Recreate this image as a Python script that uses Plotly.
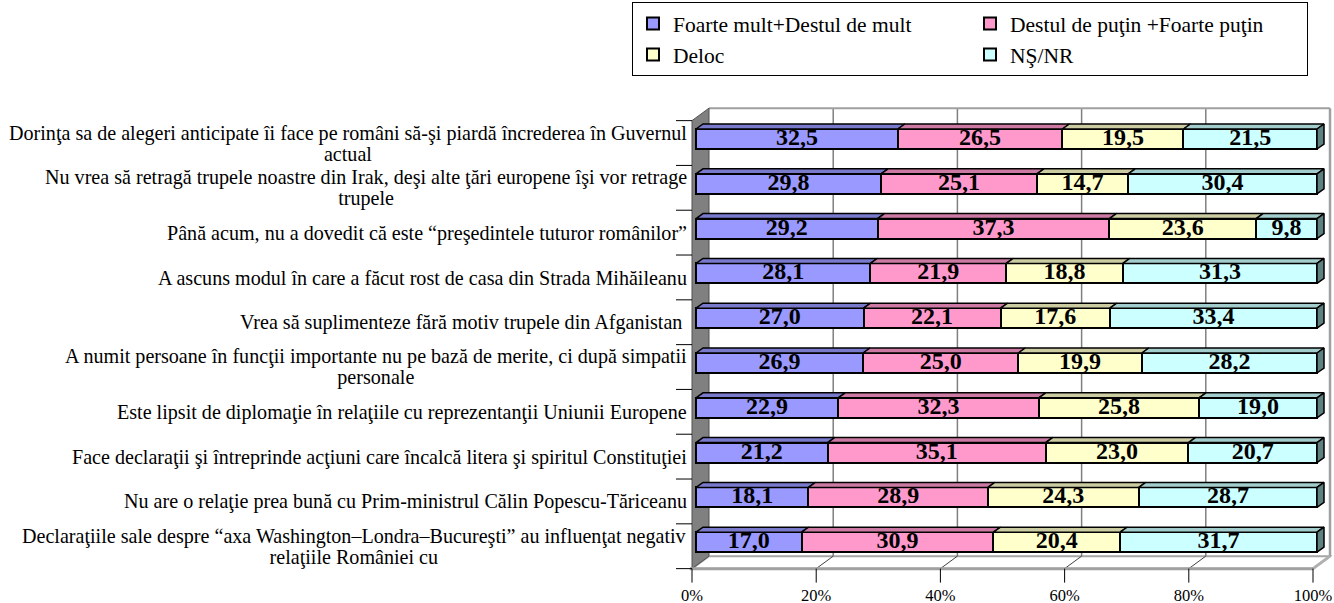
import plotly.graph_objects as go

# ---------------- data ----------------
categories = [
    "Dorinţa sa de alegeri anticipate îi face pe români să-şi piardă încrederea în Guvernul<br>actual",
    "Nu vrea să retragă trupele noastre din Irak, deşi alte ţări europene îşi vor retrage<br>trupele",
    "Până acum, nu a dovedit că este “preşedintele tuturor românilor”",
    "A ascuns modul în care a făcut rost de casa din Strada Mihăileanu",
    "Vrea să suplimenteze fără motiv trupele din Afganistan ",
    "A numit persoane în funcţii importante nu pe bază de merite, ci după simpatii<br>personale",
    "Este lipsit de diplomaţie în relaţiile cu reprezentanţii Uniunii Europene",
    "Face declaraţii şi întreprinde acţiuni care încalcă litera şi spiritul Constituţiei",
    "Nu are o relaţie prea bună cu Prim-ministrul Călin Popescu-Tăriceanu",
    "Declaraţiile sale despre “axa Washington–Londra–Bucureşti” au influenţat negativ<br>relaţiile României cu",
]
series_names = ["Foarte mult+Destul de mult", "Destul de puţin +Foarte puţin", "Deloc", "NŞ/NR"]
foarte_mult = [32.5, 29.8, 29.2, 28.1, 27.0, 26.9, 22.9, 21.2, 18.1, 17.0]
destul_putin = [26.5, 25.1, 37.3, 21.9, 22.1, 25.0, 32.3, 35.1, 28.9, 30.9]
deloc = [19.5, 14.7, 23.6, 18.8, 17.6, 19.9, 25.8, 23.0, 24.3, 20.4]
ns_nr = [21.5, 30.4, 9.8, 31.3, 33.4, 28.2, 19.0, 20.7, 28.7, 31.7]
tick_vals = [0, 20, 40, 60, 80, 100]
tick_text = ["0%", "20%", "40%", "60%", "80%", "100%"]

series = [foarte_mult, destul_putin, deloc, ns_nr]
colors = ["#9999FF", "#FF99CC", "#FFFFCC", "#CCFFFF"]
top_colors = ["#7A7ACC", "#CC7AA3", "#CCCCA3", "#A3CCCC"]
side_color = "#5F8080"
FONT = "Liberation Serif"

# ---------------- geometry (pixels -> data units) ----------------
W, H = 1334, 603
ML, MR, MT, MB = 620, 2, 100, 20
PW, PH = W - ML - MR, H - MT - MB
X0_PX, SX = 696, 6.21      # pixel of 0% on bar front, px per percent
Y0_PX, SY = 139, 44.8      # pixel of first category, px per category
xr = [(ML - X0_PX) / SX, (W - MR - X0_PX) / SX]
yr = [(H - MB - Y0_PX) / SY, (MT - Y0_PX) / SY]

DX, DY = 17 / SX, 12.5 / SY       # depth of the 3D box
T0 = 0.235                         # bar front position within depth
BDX, BDY = 7 / SX, 5 / SY          # bar depth
BAR_W = 20 / SY
CY = 0.09
n = len(categories)
idx = list(range(n))

xf = -T0 * DX                      # front plane x offset
xb = xf + DX                       # back plane x offset
yft, yfb = -0.5 + CY, n - 0.5 + CY  # front plane top / bottom
ybt, ybb = yft - DY, yfb - DY        # back plane top / bottom

fig = go.Figure()

# bars
for j, s in enumerate(series):
    fig.add_trace(go.Bar(
        x=s, y=idx, orientation="h", width=BAR_W, name=series_names[j],
        marker=dict(color=colors[j], line=dict(color="black", width=2)),
        hoverinfo="skip",
    ))

# normalized values for the 3D faces and labels
totals = [sum(series[j][i] for j in range(4)) for i in idx]
norm = [[series[j][i] / totals[i] * 100 for i in idx] for j in range(4)]

lab_x, lab_y, lab_t = [], [], []
for j in range(4):
    fx, fy = [], []
    for i in idx:
        left = sum(norm[k][i] for k in range(j))
        right = left + norm[j][i]
        yt = i - BAR_W / 2
        fx += [left, right, right + BDX, left + BDX, left, None]
        fy += [yt, yt, yt - BDY, yt - BDY, yt, None]
        lab_x.append((left + right) / 2)
        lab_y.append(i)
        lab_t.append(f"{series[j][i]:.1f}".replace(".", ","))
    fig.add_trace(go.Scatter(
        x=fx, y=fy, mode="lines", fill="toself", fillcolor=top_colors[j],
        line=dict(color="black", width=1.5), showlegend=False, hoverinfo="skip",
    ))

# right side faces
sx, sy = [], []
for i in idx:
    yt, yb = i - BAR_W / 2, i + BAR_W / 2
    sx += [100, 100, 100 + BDX, 100 + BDX, 100, None]
    sy += [yt, yb, yb - BDY, yt - BDY, yt, None]
fig.add_trace(go.Scatter(
    x=sx, y=sy, mode="lines", fill="toself", fillcolor=side_color,
    line=dict(color="black", width=1.5), showlegend=False, hoverinfo="skip",
))

# value labels
fig.add_trace(go.Scatter(
    x=lab_x, y=lab_y, text=lab_t, mode="text", textposition="middle center",
    textfont=dict(family=FONT, size=24, color="black", weight="bold"),
    showlegend=False, hoverinfo="skip",
))

# ---------------- 3D box: walls, floor, gridlines ----------------
shapes = []
def path(pts):
    return "M " + " L ".join(f"{x},{y}" for x, y in pts) + " Z"

# back wall
shapes.append(dict(type="path", path=path([(xb, ybt), (100 + xb, ybt), (100 + xb, ybb), (xb, ybb)]),
                   fillcolor="white", line=dict(width=0), layer="below"))
# floor
shapes.append(dict(type="path", path=path([(xf, yfb), (100 + xf, yfb), (100 + xb, ybb), (xb, ybb)]),
                   fillcolor="white", line=dict(color="#A6A6A6", width=2), layer="below"))
# gridlines on back wall + floor diagonals
for v in tick_vals[1:-1]:
    shapes.append(dict(type="line", x0=v + xb, x1=v + xb, y0=ybt, y1=ybb,
                       line=dict(color="#808080", width=1.5), layer="below"))
    shapes.append(dict(type="line", x0=v + xb, x1=v + xf, y0=ybb, y1=yfb,
                       line=dict(color="#404040", width=1), layer="below"))
# back wall top and right edges
shapes.append(dict(type="line", x0=xb, x1=100 + xb, y0=ybt, y1=ybt,
                   line=dict(color="#A0A0A0", width=2), layer="below"))
shapes.append(dict(type="line", x0=100 + xb, x1=100 + xb, y0=ybt, y1=ybb,
                   line=dict(color="#A0A0A0", width=2.5), layer="below"))
shapes.append(dict(type="line", x0=100 + xb, x1=100 + xf, y0=ybb, y1=yfb,
                   line=dict(color="#B0B0B0", width=3), layer="below"))
# left wall
shapes.append(dict(type="path", path=path([(xf, yft), (xb, ybt), (xb, ybb), (xf, yfb)]),
                   fillcolor="#808080", line=dict(color="#505050", width=1), layer="below"))
# floor front edge
shapes.append(dict(type="line", x0=xf - 2 / SX, x1=100 + xf, y0=yfb, y1=yfb,
                   line=dict(color="#A0A0A0", width=3), layer="below"))
# front ticks
for v in tick_vals:
    shapes.append(dict(type="line", x0=v + xf, x1=v + xf, y0=yfb, y1=yfb + 14 / SY,
                       line=dict(color="black", width=1), layer="below"))
# category ticks
for k in range(n + 1):
    shapes.append(dict(type="line", x0=xf - 16 / SX, x1=xf, y0=yft + k, y1=yft + k,
                       line=dict(color="black", width=1), layer="below"))

# category labels (larger glyphs, tight line spacing as in the original)
annotations = []
for i, c in enumerate(categories):
    txt = "<br>".join(f"<span style='font-size:20.1px'>{ln}</span>" for ln in c.split("<br>"))
    annotations.append(dict(
        x=(689 - X0_PX) / SX, y=i + 0.1, xref="x", yref="y", text=txt,
        xanchor="right", yanchor="middle", align="center", showarrow=False,
        font=dict(family=FONT, size=16, color="black"),
    ))

fig.update_layout(
    width=W, height=H,
    margin=dict(l=ML, r=MR, t=MT, b=MB, pad=0, autoexpand=False),
    paper_bgcolor="white", plot_bgcolor="rgba(0,0,0,0)",
    barmode="stack", barnorm="percent",
    shapes=shapes, annotations=annotations,
    font=dict(family=FONT, color="black"),
    xaxis=dict(range=xr, showgrid=False, zeroline=False, showline=False,
               tickvals=[v + xf for v in tick_vals], ticktext=tick_text,
               ticks="", tickfont=dict(family=FONT, size=16.5, color="black")),
    yaxis=dict(range=yr, visible=False),
    legend=dict(orientation="h", xref="container", yref="container",
                x=632 / W, y=1 - 2 / H,
                xanchor="left", yanchor="top", bordercolor="black", borderwidth=1,
                font=dict(family=FONT, size=21.5, color="black"),
                entrywidth=292, entrywidthmode="pixels", traceorder="normal"),
    showlegend=True,
)

fig.write_html("out.html", config={"displayModeBar": False},
               post_script="document.body.style.margin='0px';document.body.style.overflow='hidden';")
